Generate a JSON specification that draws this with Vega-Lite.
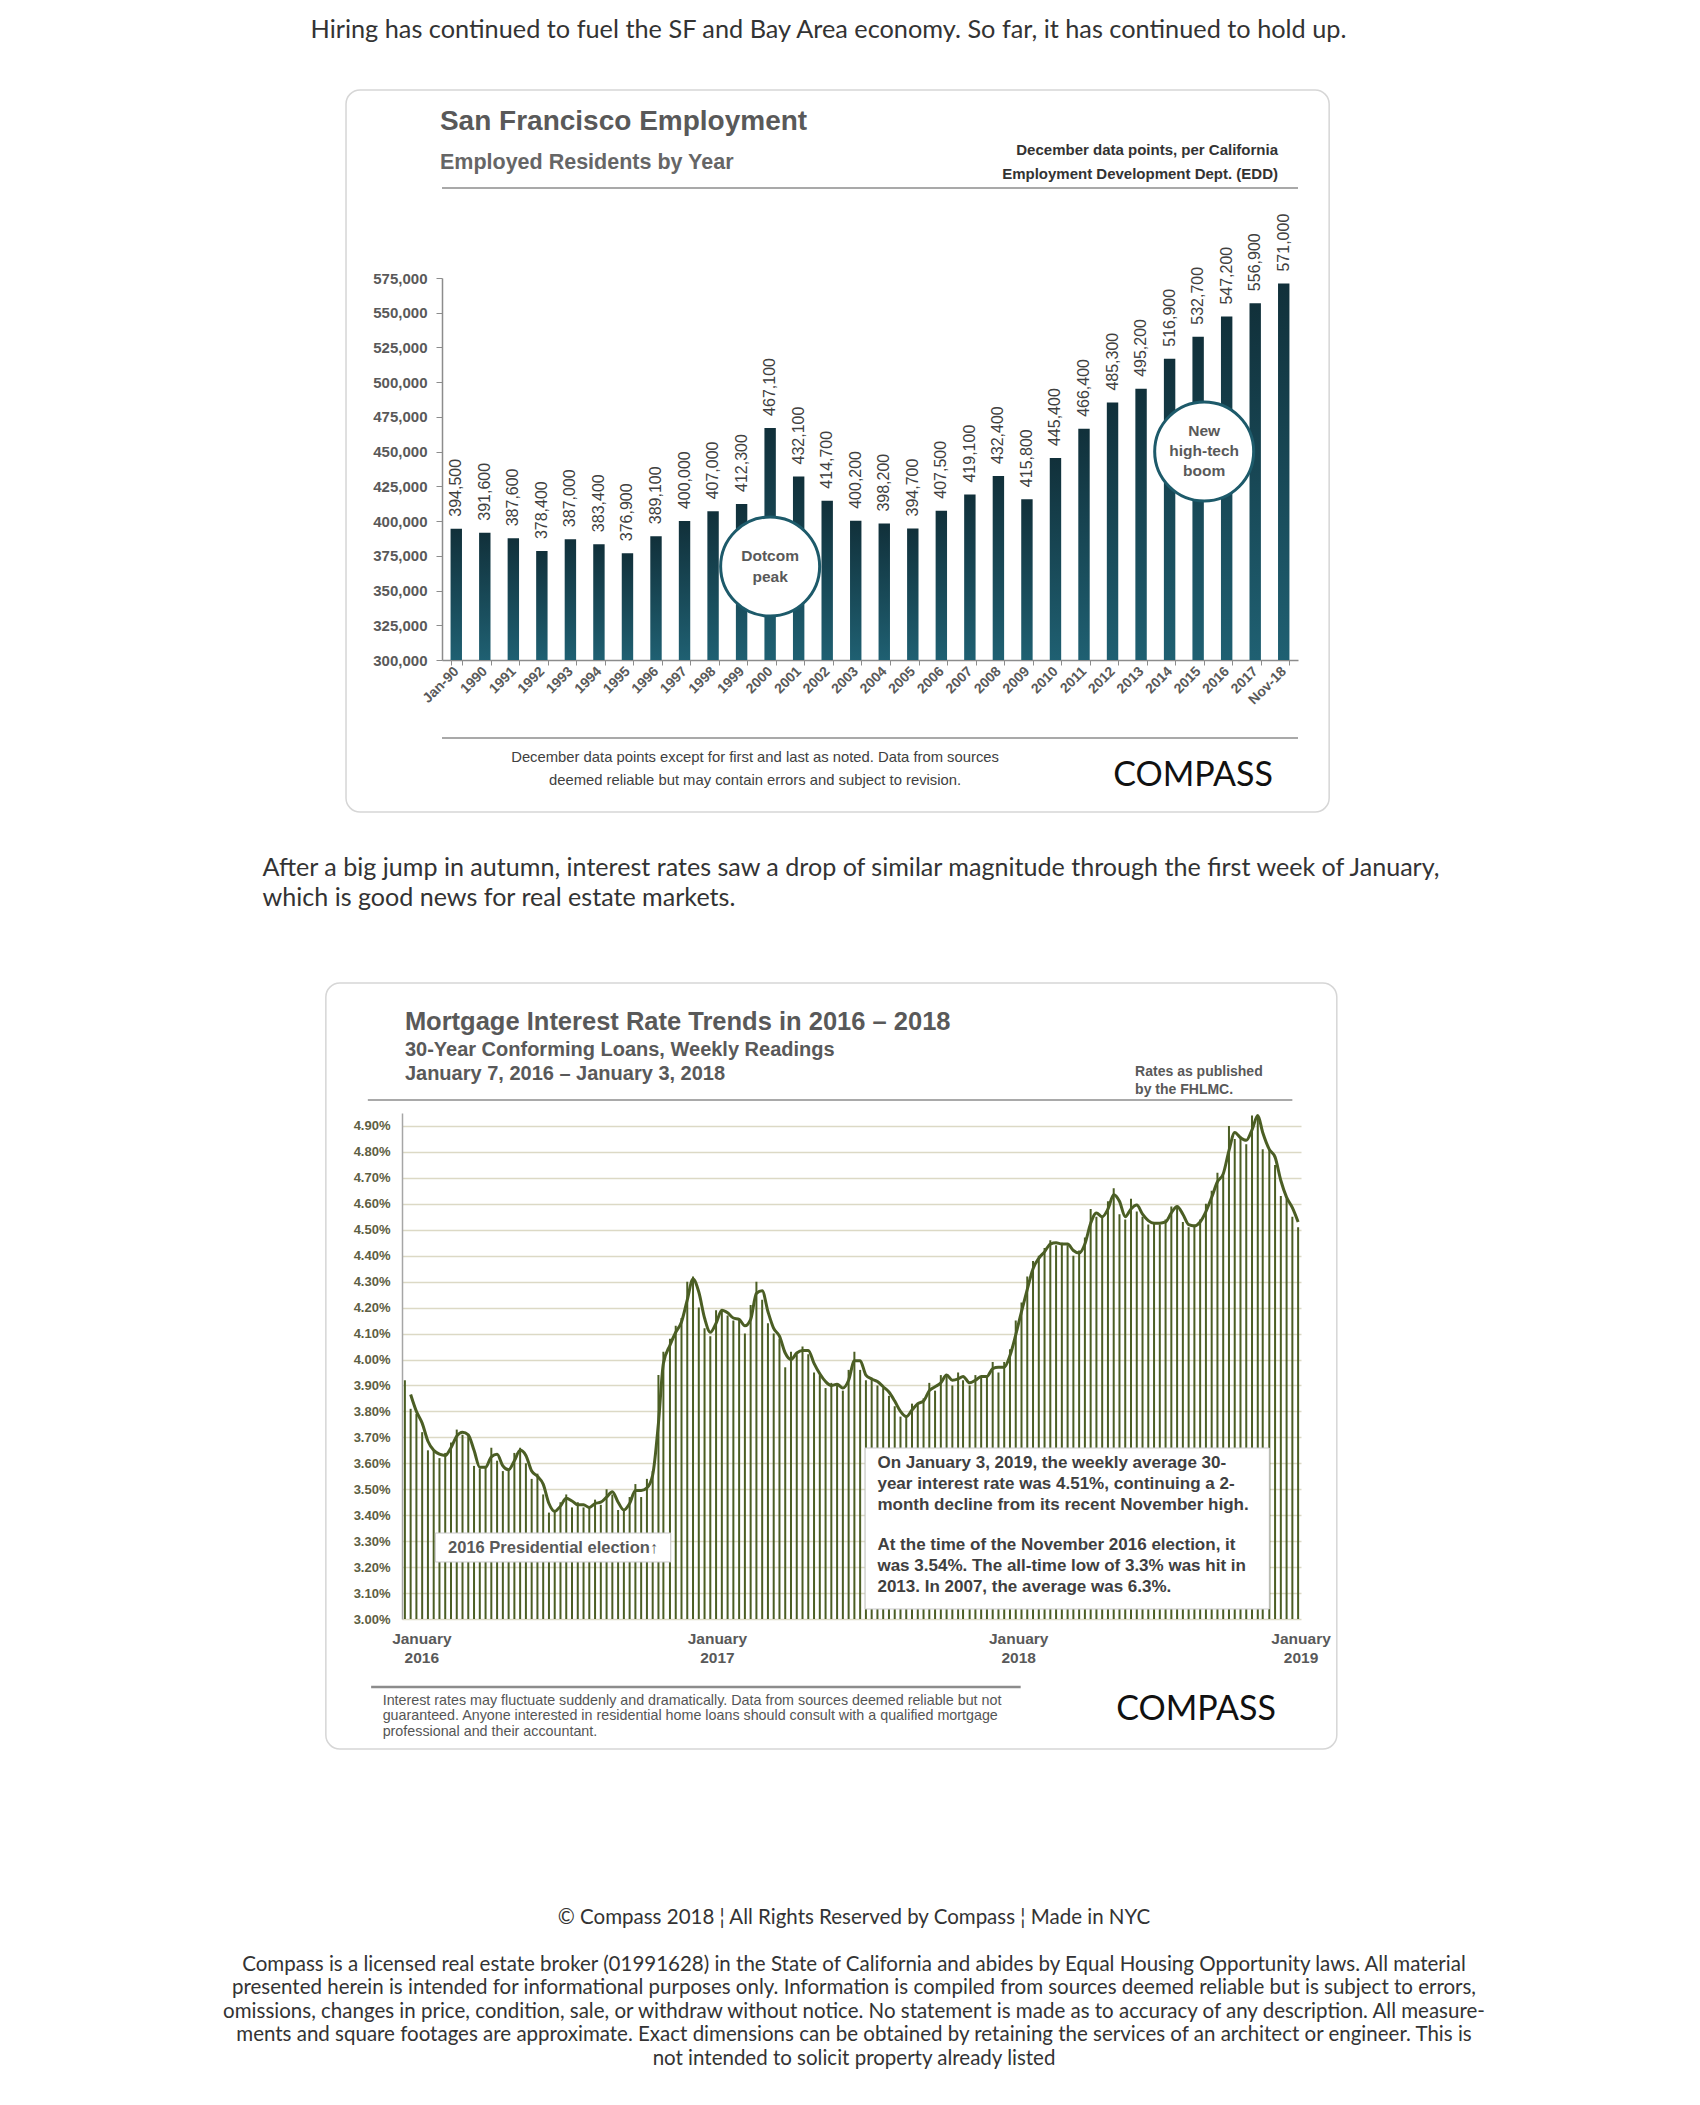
{
"$schema":"https://vega.github.io/schema/vega-lite/v6.json",
"padding":0,
"background":"white",
"config":{"view":{"stroke":null},"font":"Liberation Sans"},
"spacing":0,
"bounds":"full",
"vconcat":[
{"width":1657,"height":60,"data":{"values":[{}]},"mark":{"type":"text","text":"Hiring has continued to fuel the SF and Bay Area economy. So far, it has continued to hold up.","font":"Lato","fontSize":25.3,"color":"#333333","align":"center","baseline":"middle"},"encoding":{}},
{"width":1,"height":28.5,"data":{"values":[]},"mark":"point","encoding":{}},
{"hconcat":[
 {"width":442,"height":382,"data":{"values":[]},"mark":"point","encoding":{}},
 {"width":856,"height":382,
  "resolve":{"axis":{"x":"independent","y":"independent"}},
  "data":{"values":[
   {"year":"Jan-90","employed":394500},{"year":"1990","employed":391600},{"year":"1991","employed":387600},{"year":"1992","employed":378400},{"year":"1993","employed":387000},{"year":"1994","employed":383400},{"year":"1995","employed":376900},{"year":"1996","employed":389100},{"year":"1997","employed":400000},{"year":"1998","employed":407000},{"year":"1999","employed":412300},{"year":"2000","employed":467100},{"year":"2001","employed":432100},{"year":"2002","employed":414700},{"year":"2003","employed":400200},{"year":"2004","employed":398200},{"year":"2005","employed":394700},{"year":"2006","employed":407500},{"year":"2007","employed":419100},{"year":"2008","employed":432400},{"year":"2009","employed":415800},{"year":"2010","employed":445400},{"year":"2011","employed":466400},{"year":"2012","employed":485300},{"year":"2013","employed":495200},{"year":"2014","employed":516900},{"year":"2015","employed":532700},{"year":"2016","employed":547200},{"year":"2017","employed":556900},{"year":"Nov-18","employed":571000}
  ]},
  "layer":[
   {"data":{"values":[{}]},"mark":{"type":"rect","filled":false,"stroke":"#d6d6d6","strokeWidth":1.5,"cornerRadius":14},
    "encoding":{"x":{"datum":"Jan-90","type":"ordinal","bandPosition":-9.16,"axis":null},"x2":{"datum":"Nov-18","bandPosition":4.48},"y":{"datum":710340,"type":"quantitative","axis":null},"y2":{"datum":190580}}},
   {"mark":{"type":"bar","fill":{"gradient":"linear","x1":0,"y1":0,"x2":0,"y2":1,"stops":[{"offset":0,"color":"#11303a"},{"offset":1,"color":"#1f6072"}]}},
    "encoding":{
     "x":{"field":"year","type":"ordinal","sort":null,
      "scale":{"type":"band","domain":["Jan-90","1990","1991","1992","1993","1994","1995","1996","1997","1998","1999","2000","2001","2002","2003","2004","2005","2006","2007","2008","2009","2010","2011","2012","2013","2014","2015","2016","2017","Nov-18"],"paddingInner":0.6,"paddingOuter":0.3},
      "axis":{"orient":"bottom","title":null,"labelAngle":-45,"labelAlign":"right","labelBaseline":"middle","labelFont":"Liberation Sans","labelFontSize":14,"labelFontWeight":"bold","labelColor":"#595959","labelPadding":4,"labelOverlap":false,"tickBand":"extent","tickSize":5,"tickColor":"#8c8c8c","domainColor":"#8c8c8c","domainWidth":1.5,"grid":false}},
     "y":{"field":"employed","type":"quantitative",
      "scale":{"domain":[300000,575000],"nice":false,"zero":false},
      "axis":{"orient":"left","title":null,"values":[300000,325000,350000,375000,400000,425000,450000,475000,500000,525000,550000,575000],"format":",.0f","labelFont":"Liberation Sans","labelFontSize":15,"labelFontWeight":"bold","labelColor":"#595959","labelPadding":9,"tickSize":6,"tickColor":"#8c8c8c","domainColor":"#8c8c8c","domainWidth":1.5,"grid":false}},
     "y2":{"datum":300000}}},
   {"mark":{"type":"text","angle":270,"align":"left","baseline":"middle","dx":12,"fontSize":16,"color":"#404040"},
    "encoding":{"x":{"field":"year","type":"ordinal","axis":null},"y":{"field":"employed","type":"quantitative","axis":null},"text":{"field":"employed","type":"quantitative","format":","}}},
   {"data":{"values":[{}]},"mark":{"type":"circle","size":9800,"fill":"white","stroke":"#1d5a6a","strokeWidth":3,"opacity":1},
    "encoding":{"x":{"datum":"2000","type":"ordinal","axis":null},"y":{"datum":367300,"type":"quantitative","axis":null}}},
   {"data":{"values":[{}]},"mark":{"type":"text","text":["Dotcom","peak"],"lineHeight":21.5,"align":"center","baseline":"middle","fontSize":15.5,"fontWeight":"bold","color":"#595959"},
    "encoding":{"x":{"datum":"2000","type":"ordinal","axis":null},"y":{"datum":375160,"type":"quantitative","axis":null}}},
   {"data":{"values":[{}]},"mark":{"type":"circle","size":9800,"fill":"white","stroke":"#1d5a6a","strokeWidth":3,"opacity":1},
    "encoding":{"x":{"datum":"2015","type":"ordinal","bandPosition":1.03,"axis":null},"y":{"datum":450100,"type":"quantitative","axis":null}}},
   {"data":{"values":[{}]},"mark":{"type":"text","text":["New","high-tech","boom"],"lineHeight":20.2,"align":"center","baseline":"middle","fontSize":15.5,"fontWeight":"bold","color":"#595959"},
    "encoding":{"x":{"datum":"2015","type":"ordinal","bandPosition":1.03,"axis":null},"y":{"datum":465070,"type":"quantitative","axis":null}}},
   {"data":{"values":[{}]},"mark":{"type":"text","text":"San Francisco Employment","align":"left","baseline":"middle","fontSize":28,"fontWeight":"bold","color":"#595959"},
    "encoding":{"x":{"datum":"Jan-90","type":"ordinal","bandPosition":-0.93,"axis":null},"y":{"datum":687300,"type":"quantitative","axis":null}}},
   {"data":{"values":[{}]},"mark":{"type":"text","text":"Employed Residents by Year","align":"left","baseline":"middle","fontSize":21.5,"fontWeight":"bold","color":"#666666"},
    "encoding":{"x":{"datum":"Jan-90","type":"ordinal","bandPosition":-0.93,"axis":null},"y":{"datum":657800,"type":"quantitative","axis":null}}},
   {"data":{"values":[{}]},"mark":{"type":"text","text":["December data points, per California","Employment Development Dept. (EDD)"],"lineHeight":24,"align":"right","baseline":"middle","fontSize":15,"fontWeight":"bold","color":"#333333"},
    "encoding":{"x":{"datum":"Nov-18","type":"ordinal","bandPosition":0,"axis":null},"y":{"datum":667100,"type":"quantitative","axis":null}}},
   {"data":{"values":[{}]},"mark":{"type":"rule","color":"#8c8c8c","strokeWidth":1.5},"encoding":{"y":{"datum":639790,"type":"quantitative","axis":null}}},
   {"data":{"values":[{}]},"mark":{"type":"rule","color":"#8c8c8c","strokeWidth":1.5},"encoding":{"y":{"datum":243850,"type":"quantitative","axis":null}}},
   {"data":{"values":[{}]},"mark":{"type":"text","text":["December data points except for first and last as noted. Data from sources","deemed reliable but may contain errors and subject to revision."],"lineHeight":23,"align":"center","baseline":"middle","fontSize":14.8,"color":"#404040"},
    "encoding":{"x":{"datum":"1999","type":"ordinal","bandPosition":1.68,"axis":null},"y":{"datum":229450,"type":"quantitative","axis":null}}},
   {"data":{"values":[{}]},"mark":{"type":"text","text":"COMPASS","align":"center","baseline":"middle","font":"Lato","fontSize":34,"color":"#111111"},
    "encoding":{"x":{"datum":"2015","type":"ordinal","bandPosition":0.06,"axis":null},"y":{"datum":216490,"type":"quantitative","axis":null}}}
  ]}
 ],"spacing":0,"bounds":"flush"},
{"width":1,"height":9.5,"data":{"values":[]},"mark":"point","encoding":{}},
{"hconcat":[
 {"width":262,"height":90,"data":{"values":[]},"mark":"point","encoding":{}},
 {"width":1,"height":90,"data":{"values":[{}]},"mark":{"type":"text","text":["After a big jump in autumn, interest rates saw a drop of similar magnitude through the first week of January,","which is good news for real estate markets."],"align":"left","baseline":"middle","lineHeight":30,"font":"Lato","fontSize":25.1,"color":"#333333"},"encoding":{}}
 ],"spacing":0,"bounds":"flush"},
{"width":1,"height":68.5,"data":{"values":[]},"mark":"point","encoding":{}},
{"hconcat":[
 {"width":402,"height":506,"data":{"values":[]},"mark":"point","encoding":{}},
 {"width":899,"height":506,
  "resolve":{"axis":{"x":"independent","y":"independent"}},
  "data":{"values":[
{"d":"2016-01-14","r":3.92},{"d":"2016-01-21","r":3.81,"t":3.865},{"d":"2016-01-28","r":3.79,"t":3.8},{"d":"2016-02-04","r":3.72,"t":3.755},{"d":"2016-02-11","r":3.65,"t":3.685},{"d":"2016-02-18","r":3.65,"t":3.65},{"d":"2016-02-25","r":3.62,"t":3.635},{"d":"2016-03-03","r":3.64,"t":3.63},{"d":"2016-03-10","r":3.68,"t":3.66},{"d":"2016-03-17","r":3.73,"t":3.705},{"d":"2016-03-24","r":3.71,"t":3.72},{"d":"2016-03-31","r":3.71,"t":3.71},{"d":"2016-04-07","r":3.59,"t":3.65},{"d":"2016-04-14","r":3.58,"t":3.585},{"d":"2016-04-21","r":3.59,"t":3.585},{"d":"2016-04-28","r":3.66,"t":3.625},{"d":"2016-05-05","r":3.61,"t":3.635},{"d":"2016-05-12","r":3.57,"t":3.59},{"d":"2016-05-19","r":3.58,"t":3.575},{"d":"2016-05-26","r":3.64,"t":3.61},{"d":"2016-06-02","r":3.66,"t":3.65},{"d":"2016-06-09","r":3.6,"t":3.63},{"d":"2016-06-16","r":3.54,"t":3.57},{"d":"2016-06-23","r":3.56,"t":3.55},{"d":"2016-06-30","r":3.48,"t":3.52},{"d":"2016-07-07","r":3.41,"t":3.445},{"d":"2016-07-14","r":3.42,"t":3.415},{"d":"2016-07-21","r":3.45,"t":3.435},{"d":"2016-07-28","r":3.48,"t":3.465},{"d":"2016-08-04","r":3.43,"t":3.455},{"d":"2016-08-11","r":3.45,"t":3.44},{"d":"2016-08-18","r":3.43,"t":3.44},{"d":"2016-08-25","r":3.43,"t":3.43},{"d":"2016-09-01","r":3.46,"t":3.445},{"d":"2016-09-08","r":3.44,"t":3.45},{"d":"2016-09-15","r":3.5,"t":3.47},{"d":"2016-09-22","r":3.48,"t":3.49},{"d":"2016-09-29","r":3.42,"t":3.45},{"d":"2016-10-06","r":3.42,"t":3.42},{"d":"2016-10-13","r":3.47,"t":3.445},{"d":"2016-10-20","r":3.52,"t":3.495},{"d":"2016-10-27","r":3.47,"t":3.495},{"d":"2016-11-03","r":3.54,"t":3.505},{"d":"2016-11-10","r":3.57,"t":3.555},{"d":"2016-11-17","r":3.94,"t":3.755},{"d":"2016-11-23","r":4.03,"t":3.985},{"d":"2016-12-01","r":4.08,"t":4.055},{"d":"2016-12-08","r":4.13,"t":4.105},{"d":"2016-12-15","r":4.16,"t":4.145},{"d":"2016-12-22","r":4.3,"t":4.23},{"d":"2016-12-29","r":4.32,"t":4.31},
{"d":"2017-01-05","r":4.2,"t":4.26},{"d":"2017-01-12","r":4.12,"t":4.16},{"d":"2017-01-19","r":4.09,"t":4.105},{"d":"2017-01-26","r":4.19,"t":4.14},{"d":"2017-02-02","r":4.19,"t":4.19},{"d":"2017-02-09","r":4.17,"t":4.18},{"d":"2017-02-16","r":4.15,"t":4.16},{"d":"2017-02-23","r":4.16,"t":4.155},{"d":"2017-03-02","r":4.1,"t":4.13},{"d":"2017-03-09","r":4.21,"t":4.155},{"d":"2017-03-16","r":4.3,"t":4.255},{"d":"2017-03-23","r":4.23,"t":4.265},{"d":"2017-03-30","r":4.14,"t":4.185},{"d":"2017-04-06","r":4.1,"t":4.12},{"d":"2017-04-13","r":4.08,"t":4.09},{"d":"2017-04-20","r":3.97,"t":4.025},{"d":"2017-04-27","r":4.03,"t":4.0},{"d":"2017-05-04","r":4.02,"t":4.025},{"d":"2017-05-11","r":4.05,"t":4.035},{"d":"2017-05-18","r":4.02,"t":4.035},{"d":"2017-05-25","r":3.95,"t":3.985},{"d":"2017-06-01","r":3.94,"t":3.945},{"d":"2017-06-08","r":3.89,"t":3.915},{"d":"2017-06-15","r":3.91,"t":3.9},{"d":"2017-06-22","r":3.9,"t":3.905},{"d":"2017-06-29","r":3.88,"t":3.89},{"d":"2017-07-06","r":3.96,"t":3.92},{"d":"2017-07-13","r":4.03,"t":3.995},{"d":"2017-07-20","r":3.96,"t":3.995},{"d":"2017-07-27","r":3.92,"t":3.94},{"d":"2017-08-03","r":3.93,"t":3.925},{"d":"2017-08-10","r":3.9,"t":3.915},{"d":"2017-08-17","r":3.89,"t":3.895},{"d":"2017-08-24","r":3.86,"t":3.875},{"d":"2017-08-31","r":3.82,"t":3.84},{"d":"2017-09-07","r":3.78,"t":3.8},{"d":"2017-09-14","r":3.78,"t":3.78},{"d":"2017-09-21","r":3.83,"t":3.805},{"d":"2017-09-28","r":3.83,"t":3.83},{"d":"2017-10-05","r":3.85,"t":3.84},{"d":"2017-10-12","r":3.91,"t":3.88},{"d":"2017-10-19","r":3.88,"t":3.895},{"d":"2017-10-26","r":3.94,"t":3.91},{"d":"2017-11-02","r":3.94,"t":3.94},{"d":"2017-11-09","r":3.9,"t":3.92},{"d":"2017-11-16","r":3.95,"t":3.925},{"d":"2017-11-22","r":3.92,"t":3.935},{"d":"2017-11-30","r":3.9,"t":3.91},{"d":"2017-12-07","r":3.94,"t":3.92},{"d":"2017-12-14","r":3.93,"t":3.935},{"d":"2017-12-21","r":3.94,"t":3.935},{"d":"2017-12-28","r":3.99,"t":3.965},
{"d":"2018-01-04","r":3.95,"t":3.97},{"d":"2018-01-11","r":3.99,"t":3.97},{"d":"2018-01-18","r":4.04,"t":4.015},{"d":"2018-01-25","r":4.15,"t":4.095},{"d":"2018-02-01","r":4.22,"t":4.185},{"d":"2018-02-08","r":4.32,"t":4.27},{"d":"2018-02-15","r":4.38,"t":4.35},{"d":"2018-02-22","r":4.4,"t":4.39},{"d":"2018-03-01","r":4.43,"t":4.415},{"d":"2018-03-08","r":4.46,"t":4.445},{"d":"2018-03-15","r":4.44,"t":4.45},{"d":"2018-03-22","r":4.45,"t":4.445},{"d":"2018-03-29","r":4.44,"t":4.445},{"d":"2018-04-05","r":4.4,"t":4.42},{"d":"2018-04-12","r":4.42,"t":4.41},{"d":"2018-04-19","r":4.47,"t":4.445},{"d":"2018-04-26","r":4.58,"t":4.525},{"d":"2018-05-03","r":4.55,"t":4.565},{"d":"2018-05-10","r":4.55,"t":4.55},{"d":"2018-05-17","r":4.61,"t":4.58},{"d":"2018-05-24","r":4.66,"t":4.635},{"d":"2018-05-31","r":4.56,"t":4.61},{"d":"2018-06-07","r":4.54,"t":4.55},{"d":"2018-06-14","r":4.62,"t":4.58},{"d":"2018-06-21","r":4.57,"t":4.595},{"d":"2018-06-28","r":4.55,"t":4.56},{"d":"2018-07-05","r":4.52,"t":4.535},{"d":"2018-07-12","r":4.53,"t":4.525},{"d":"2018-07-19","r":4.52,"t":4.525},{"d":"2018-07-26","r":4.54,"t":4.53},{"d":"2018-08-02","r":4.59,"t":4.565},{"d":"2018-08-09","r":4.59,"t":4.59},{"d":"2018-08-16","r":4.53,"t":4.56},{"d":"2018-08-23","r":4.51,"t":4.52},{"d":"2018-08-30","r":4.52,"t":4.515},{"d":"2018-09-06","r":4.54,"t":4.53},{"d":"2018-09-13","r":4.6,"t":4.57},{"d":"2018-09-20","r":4.65,"t":4.625},{"d":"2018-09-27","r":4.72,"t":4.685},{"d":"2018-10-04","r":4.71,"t":4.715},{"d":"2018-10-11","r":4.9,"t":4.805},{"d":"2018-10-18","r":4.85,"t":4.875},{"d":"2018-10-25","r":4.86,"t":4.855},{"d":"2018-11-01","r":4.83,"t":4.845},{"d":"2018-11-08","r":4.94,"t":4.885},{"d":"2018-11-15","r":4.94,"t":4.94},{"d":"2018-11-21","r":4.81,"t":4.875},{"d":"2018-11-29","r":4.81,"t":4.81},{"d":"2018-12-06","r":4.75,"t":4.78},{"d":"2018-12-13","r":4.63,"t":4.69},{"d":"2018-12-20","r":4.62,"t":4.625},{"d":"2018-12-27","r":4.55,"t":4.585},{"d":"2019-01-03","r":4.51,"t":4.53}
  ]},
  "layer":[
   {"data":{"values":[{}]},"mark":{"type":"rect","filled":false,"stroke":"#d6d6d6","strokeWidth":1.5,"cornerRadius":14},
    "encoding":{"x":{"datum":{"year":2015,"month":10,"date":10,"utc":true},"type":"temporal","axis":null},"x2":{"datum":{"year":2019,"month":2,"date":19,"utc":true}},"y":{"datum":5.451,"type":"quantitative","axis":null},"y2":{"datum":2.499}}},
   {"mark":{"type":"bar","size":2,"color":"#4b5e24"},
    "encoding":{
     "x":{"field":"d","type":"temporal",
      "scale":{"domain":[{"year":2016,"month":1,"date":10,"hours":12,"utc":true},{"year":2019,"month":1,"date":6,"hours":12,"utc":true}],"padding":0},
      "axis":{"orient":"bottom","title":null,"values":[{"year":2016,"month":2,"date":3,"utc":true},{"year":2017,"month":1,"date":27,"utc":true},{"year":2018,"month":1,"date":28,"utc":true},{"year":2019,"month":1,"date":6,"utc":true}],"labelExpr":"['January', utcFormat(datum.value, '%Y')]","labelFont":"Liberation Sans","labelFontSize":15.5,"labelFontWeight":"bold","labelColor":"#595959","labelLineHeight":19,"labelPadding":12,"labelAlign":"center","labelBaseline":"top","labelFlush":false,"labelOverlap":false,"ticks":false,"domain":false,"grid":false}},
     "y":{"field":"r","type":"quantitative",
      "scale":{"domain":[3,4.95],"nice":false,"zero":false},
      "axis":{"orient":"left","title":null,"values":[3,3.1,3.2,3.3,3.4,3.5,3.6,3.7,3.8,3.9,4,4.1,4.2,4.3,4.4,4.5,4.6,4.7,4.8,4.9],"labelExpr":"format(datum.value, '.2f') + '%'","labelOverlap":false,"grid":true,"gridColor":"#dcd9c5","gridWidth":1.5,"ticks":false,"domain":true,"domainColor":"#a6a6a6","domainWidth":1.5,"labelFont":"Liberation Sans","labelFontSize":13,"labelFontWeight":"bold","labelColor":"#5e5e42","labelPadding":12}},
     "y2":{"datum":3}}},
   {"mark":{"type":"line","color":"#4b5e24","strokeWidth":3,"interpolate":"monotone"},
    "encoding":{"x":{"field":"d","type":"temporal","axis":null},"y":{"field":"t","type":"quantitative","axis":null}}},
   {"data":{"values":[{}]},"mark":{"type":"rect","fill":"white","stroke":"#c8c8c8","strokeWidth":1},
    "encoding":{"x":{"datum":{"year":2016,"month":2,"date":20,"utc":true},"type":"temporal","axis":null},"x2":{"datum":{"year":2016,"month":12,"date":2,"utc":true}},"y":{"datum":3.3314,"type":"quantitative","axis":null},"y2":{"datum":3.2197}}},
   {"data":{"values":[{}]},"mark":{"type":"text","text":"2016 Presidential election↑","align":"center","baseline":"middle","fontSize":16.5,"fontWeight":"bold","color":"#595959"},
    "encoding":{"x":{"datum":{"year":2016,"month":7,"date":12,"utc":true},"type":"temporal","axis":null},"y":{"datum":3.275,"type":"quantitative","axis":null}}},
   {"data":{"values":[{}]},"mark":{"type":"rect","fill":"white","stroke":"#c8c8c8","strokeWidth":1},
    "encoding":{"x":{"datum":{"year":2017,"month":7,"date":26,"utc":true},"type":"temporal","axis":null},"x2":{"datum":{"year":2018,"month":11,"date":29,"utc":true}},"y":{"datum":3.659,"type":"quantitative","axis":null},"y2":{"datum":3.0385}}},
   {"data":{"values":[{}]},"mark":{"type":"text","text":["On January 3, 2019, the weekly average 30-","year interest rate was 4.51%, continuing a 2-","month decline from its recent November high."],"lineHeight":20.8,"align":"left","baseline":"middle","fontSize":17,"fontWeight":"bold","color":"#404040"},
    "encoding":{"x":{"datum":{"year":2017,"month":8,"date":10,"utc":true},"type":"temporal","axis":null},"y":{"datum":3.6012,"type":"quantitative","axis":null}}},
   {"data":{"values":[{}]},"mark":{"type":"text","text":["At the time of the November 2016 election, it","was 3.54%. The all-time low of 3.3% was hit in","2013. In 2007, the average was 6.3%."],"lineHeight":21.2,"align":"left","baseline":"middle","fontSize":17,"fontWeight":"bold","color":"#404040"},
    "encoding":{"x":{"datum":{"year":2017,"month":8,"date":10,"utc":true},"type":"temporal","axis":null},"y":{"datum":3.2852,"type":"quantitative","axis":null}}},
   {"data":{"values":[{}]},"mark":{"type":"text","text":"Mortgage Interest Rate Trends in 2016 – 2018","align":"left","baseline":"middle","fontSize":25.5,"fontWeight":"bold","color":"#595959"},
    "encoding":{"x":{"datum":{"year":2016,"month":1,"date":14,"utc":true},"type":"temporal","axis":null},"y":{"datum":5.3007,"type":"quantitative","axis":null}}},
   {"data":{"values":[{}]},"mark":{"type":"text","text":["30-Year Conforming Loans, Weekly Readings","January 7, 2016 – January 3, 2018"],"lineHeight":24,"align":"left","baseline":"middle","fontSize":20,"fontWeight":"bold","color":"#595959"},
    "encoding":{"x":{"datum":{"year":2016,"month":1,"date":14,"utc":true},"type":"temporal","axis":null},"y":{"datum":5.1928,"type":"quantitative","axis":null}}},
   {"data":{"values":[{}]},"mark":{"type":"text","text":["Rates as published","by the FHLMC."],"lineHeight":18,"align":"left","baseline":"middle","fontSize":14,"fontWeight":"bold","color":"#595959"},
    "encoding":{"x":{"datum":{"year":2018,"month":6,"date":19,"utc":true},"type":"temporal","axis":null},"y":{"datum":5.108,"type":"quantitative","axis":null}}},
   {"data":{"values":[{}]},"mark":{"type":"rule","color":"#8c8c8c","strokeWidth":1.5},
    "encoding":{"x":{"datum":{"year":2015,"month":11,"date":30,"utc":true},"type":"temporal","axis":null},"x2":{"datum":{"year":2018,"month":12,"date":27,"utc":true}},"y":{"datum":5.0,"type":"quantitative","axis":null}}},
   {"data":{"values":[{}]},"mark":{"type":"rule","color":"#8c8c8c","strokeWidth":2.5},
    "encoding":{"x":{"datum":{"year":2015,"month":12,"date":4,"utc":true},"type":"temporal","axis":null},"x2":{"datum":{"year":2018,"month":1,"date":31,"utc":true}},"y":{"datum":2.738,"type":"quantitative","axis":null}}},
   {"data":{"values":[{}]},"mark":{"type":"text","text":["Interest rates may fluctuate suddenly and dramatically. Data from sources deemed reliable but not","guaranteed. Anyone interested in residential home loans should consult with a qualified mortgage","professional and their accountant."],"lineHeight":15.5,"align":"left","baseline":"middle","fontSize":14.3,"color":"#555555"},
    "encoding":{"x":{"datum":{"year":2015,"month":12,"date":18,"utc":true},"type":"temporal","axis":null},"y":{"datum":2.684,"type":"quantitative","axis":null}}},
   {"data":{"values":[{}]},"mark":{"type":"text","text":"COMPASS","align":"center","baseline":"middle","font":"Lato","fontSize":34,"color":"#111111"},
    "encoding":{"x":{"datum":{"year":2018,"month":9,"date":1,"utc":true},"type":"temporal","axis":null},"y":{"datum":2.649,"type":"quantitative","axis":null}}}
  ]}
 ],"spacing":0,"bounds":"flush"},
{"width":1,"height":147.25,"data":{"values":[]},"mark":"point","encoding":{}},
{"hconcat":[
 {"width":852,"height":40,"data":{"values":[]},"mark":"point","encoding":{}},
 {"width":4,"height":40,"data":{"values":[{}]},"mark":{"type":"text","text":"© Compass 2018 ¦ All Rights Reserved by Compass ¦ Made in NYC","align":"center","baseline":"middle","font":"Lato","fontSize":20.5,"color":"#333333"},"encoding":{}}
 ],"spacing":0,"bounds":"flush"},
{"width":1,"height":7,"data":{"values":[]},"mark":"point","encoding":{}},
{"hconcat":[
 {"width":852,"height":40,"data":{"values":[]},"mark":"point","encoding":{}},
 {"width":4,"height":40,"data":{"values":[{}]},"mark":{"type":"text","text":["Compass is a licensed real estate broker (01991628) in the State of California and abides by Equal Housing Opportunity laws. All material","presented herein is intended for informational purposes only. Information is compiled from sources deemed reliable but is subject to errors,","omissions, changes in price, condition, sale, or withdraw without notice. No statement is made as to accuracy of any description. All measure-","ments and square footages are approximate. Exact dimensions can be obtained by retaining the services of an architect or engineer. This is","not intended to solicit property already listed"],"align":"center","baseline":"middle","lineHeight":23.4,"font":"Lato","fontSize":20.5,"color":"#333333"},"encoding":{}}
 ],"spacing":0,"bounds":"flush"}
]
}
